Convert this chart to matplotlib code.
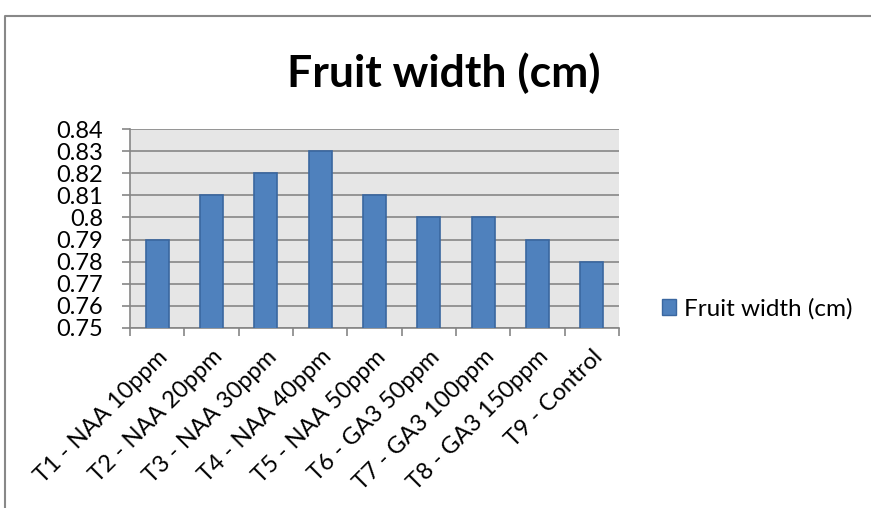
"""Bar chart of fruit width for each growth regulator treatment."""

import matplotlib.pyplot as plt
from matplotlib.lines import Line2D
from matplotlib.patches import Patch
from matplotlib.ticker import FuncFormatter, MultipleLocator


TREATMENTS = [
    "T1 - NAA 10ppm",
    "T2 - NAA 20ppm",
    "T3 - NAA 30ppm",
    "T4 - NAA 40ppm",
    "T5 - NAA 50ppm",
    "T6 - GA3 50ppm",
    "T7 - GA3 100ppm",
    "T8 - GA3 150ppm",
    "T9 - Control",
]
FRUIT_WIDTH = [0.79, 0.81, 0.82, 0.83, 0.81, 0.80, 0.80, 0.79, 0.78]
SERIES_NAME = "Fruit width (cm)"

BAR_COLOR = "#4f81bd"
EDGE_COLOR = "#3a67a0"
PLOT_BG = "#e6e6e6"
GRID_COLOR = "#868686"


def main() -> None:
    plt.rcParams["font.family"] = ["Lato", "DejaVu Sans"]

    fig = plt.figure(figsize=(8.71, 5.08), dpi=100)
    ax = fig.add_axes([130 / 871, 1 - 328 / 508, 489 / 871, 199 / 508])
    ax.set_facecolor(PLOT_BG)

    positions = range(len(TREATMENTS))
    ax.bar(positions, FRUIT_WIDTH, width=0.42, color=BAR_COLOR,
           edgecolor=EDGE_COLOR, linewidth=1.2, zorder=3)

    ax.set_xlim(-0.5, len(TREATMENTS) - 0.5)
    ax.set_ylim(0.75, 0.84)
    ax.yaxis.set_major_locator(MultipleLocator(0.01))
    ax.yaxis.set_major_formatter(FuncFormatter(lambda v, _: f"{round(v, 2):g}"))
    ax.grid(axis="y", color=GRID_COLOR, linewidth=1.2, zorder=1)

    # category labels sit between boundary ticks, Excel style
    ax.set_xticks(list(positions))
    ax.set_xticklabels(TREATMENTS, rotation=45, ha="right",
                       rotation_mode="anchor", fontsize=17)
    ax.tick_params(axis="x", length=0, pad=13)
    ax.set_xticks([p - 0.5 for p in range(len(TREATMENTS) + 1)], minor=True)
    ax.tick_params(axis="x", which="minor", length=5.8, color=GRID_COLOR,
                   width=1.2)
    ax.tick_params(axis="y", length=5.8, color=GRID_COLOR, width=1.2,
                   labelsize=17, pad=13.7)

    for side in ("top", "right"):
        ax.spines[side].set_visible(False)
    for side in ("left", "bottom"):
        ax.spines[side].set_color(GRID_COLOR)
        ax.spines[side].set_linewidth(1.2)

    fig.text(444 / 871, 1 - 73 / 508, SERIES_NAME, ha="center", va="center",
             fontsize=32, fontweight="bold")

    handle = Patch(facecolor=BAR_COLOR, edgecolor=EDGE_COLOR, linewidth=1.0)
    fig.legend([handle], [SERIES_NAME], loc="center left",
               bbox_to_anchor=(640 / 871, 1 - 309 / 508), frameon=False,
               fontsize=17.5, handlelength=0.6, handleheight=0.6,
               handletextpad=0.3)

    # outer chart frame, partly cut off at the right and bottom
    fig.add_artist(Line2D([5 / 871, 5 / 871, 1.0],
                          [0.0, 1 - 16 / 508, 1 - 16 / 508],
                          transform=fig.transFigure, color="#888888",
                          linewidth=1.5))

    fig.savefig("out.png", dpi=100)


if __name__ == "__main__":
    main()
